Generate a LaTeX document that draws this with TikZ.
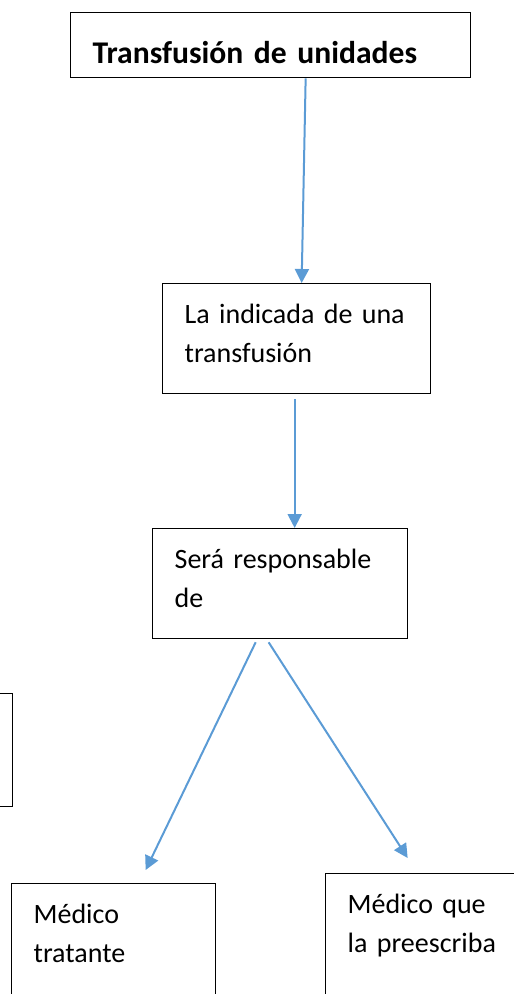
\documentclass[tikz,border=0pt]{standalone}
\usepackage{fontspec}
\setmainfont{Carlito}
\usetikzlibrary{arrows.meta}

\definecolor{azul}{HTML}{5B9BD5}
\tikzstyle{caja}=[draw,line width=1.3pt,rectangle,anchor=north west,inner xsep=22pt,inner ysep=0pt,align=left,font=\fontsize{28}{39}\selectfont]
\tikzstyle{flecha}=[color=azul,line width=2pt,-{Triangle[length=14pt,width=14pt]}]

\begin{document}
\begin{tikzpicture}[x=1pt,y=-1pt]
  \useasboundingbox (0,0) rectangle (514,994);

  \node[caja,text width=356pt,text height=51pt,text depth=14pt,font=\fontsize{31.6}{39}\selectfont\bfseries] (unidades) at (70,12) {Transfusión de unidades};
  \node[caja,text width=224pt,text height=40pt,text depth=70pt] (indicada) at (162,283) {La indicada de una\\transfusión};
  \node[caja,text width=211pt,text height=40pt,text depth=70pt] (responsable) at (152,528) {Será responsable\\de};

  % caja cortada a la izquierda
  \node[caja,anchor=north east,minimum width=150pt,minimum height=113pt] (izq) at (13,693) {};

  \node[caja,text width=160pt,text height=40pt,text depth=150pt] (tratante) at (11,883) {Médico\\tratante};
  \node[caja,text width=176pt,text height=40pt,text depth=150pt] (preescriba) at (325,873) {Médico que\\la preescriba};

  \path ([xshift=35pt]unidades.south) edge [flecha] ([xshift=5pt]indicada.north);
  \path ([xshift=-2pt,yshift=-5pt]indicada.south) edge [flecha] ([xshift=14.5pt]responsable.north);
  \path ([xshift=-24.5pt,yshift=-3pt]responsable.south) edge [flecha] ([xshift=32pt,yshift=13pt]tratante.north);
  \path ([xshift=-11.5pt,yshift=-3pt]responsable.south) edge [flecha] ([xshift=-28pt,yshift=15pt]preescriba.north);

\end{tikzpicture}
\end{document}
